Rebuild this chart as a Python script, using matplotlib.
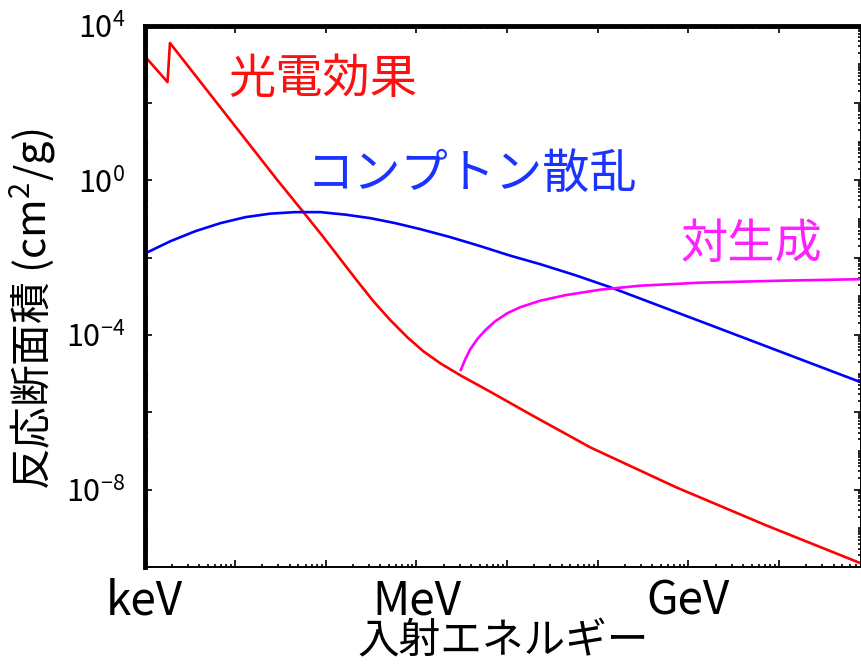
import matplotlib
matplotlib.use("Agg")
import matplotlib.pyplot as plt
from matplotlib.ticker import LogLocator, NullFormatter
import numpy as np

plt.rcParams['font.family'] = ['Noto Sans CJK JP', 'DejaVu Sans']
plt.rcParams['mathtext.fontset'] = 'custom'
plt.rcParams['mathtext.rm'] = 'Noto Sans CJK JP'
plt.rcParams['mathtext.default'] = 'regular'

# ---- data (log10 of energy in eV, log10 of cross-section in cm^2/g) ----
photo_logE = [3.011, 3.254, 3.281, 4.466, 4.753, 4.974, 5.161, 5.349, 5.525,
              5.713, 5.900, 6.076, 6.263, 6.484, 6.815, 7.256, 7.917, 8.866,
              9.858, 10.905]
photo_logS = [3.185, 2.538, 3.547, 0.003, -0.825, -1.472, -2.041, -2.610, -3.128,
              -3.620, -4.060, -4.422, -4.733, -5.043, -5.470, -6.052, -6.906, -7.940,
              -8.923, -9.906]

compton_logE = [3.0, 3.287, 3.562, 3.838, 4.114, 4.389, 4.665, 4.940, 5.216,
                5.492, 5.767, 6.043, 6.374, 6.705, 7.036, 7.366, 7.752, 8.138,
                9.130, 10.905]
compton_logS = [-1.900, -1.576, -1.317, -1.110, -0.955, -0.864, -0.825, -0.825, -0.890,
                -0.981, -1.110, -1.265, -1.472, -1.705, -1.951, -2.171, -2.455, -2.766,
                -3.645, -5.224]

pair_logE = [6.484, 6.539, 6.594, 6.671, 6.760, 6.870, 7.003, 7.146, 7.366,
             7.642, 8.028, 8.469, 9.130, 10.012, 10.905]
pair_logS = [-4.939, -4.629, -4.370, -4.111, -3.878, -3.645, -3.438, -3.283, -3.115,
             -2.973, -2.830, -2.727, -2.649, -2.598, -2.559]

series_names = ['光電効果', 'コンプトン散乱', '対生成']
series_colors = ['#ff0000', '#0000ff', '#ff00ff']
text_colors = ['#ff1010', '#1a33ff', '#ff22ff']
label_logE = [4.963, 6.616, 9.692]
label_logS = [2.59, 0.132, -1.679]

xtick_names = {3: 'keV', 6: 'MeV', 9: 'GeV'}
ytick_names = {4: '$10^{4}$', 0: '$10^{0}$', -4: '$10^{-4}$', -8: '$10^{-8}$'}

xlim_log = (3.0, 10.905)
ylim_log = (-10, 4)

# ---- figure ----
fig = plt.figure(figsize=(8.62, 6.71), dpi=100)
L, R, T, B = 144.5, 861, 25.5, 567
W, H = 862, 671
ax = fig.add_axes([L / W, 1 - B / H, (R - L) / W, (B - T) / H])

ax.set_xscale('log')
ax.set_yscale('log')

curves = [(photo_logE, photo_logS), (compton_logE, compton_logS), (pair_logE, pair_logS)]
for (lx, ly), c in zip(curves, series_colors):
    ax.plot(10.0 ** np.array(lx), 10.0 ** np.array(ly), color=c, lw=1.9,
            solid_joinstyle='round', solid_capstyle='butt')

for name, c, lx, ly in zip(series_names, text_colors, label_logE, label_logS):
    ax.text(10 ** lx, 10 ** ly, name, color=c, fontsize=34, ha='center', va='center')

ax.set_xlim(10 ** xlim_log[0], 10 ** xlim_log[1])
ax.set_ylim(10 ** ylim_log[0], 10 ** ylim_log[1])

# spines
for s in ['left', 'top']:
    ax.spines[s].set_linewidth(3.5)
for s in ['bottom', 'right']:
    ax.spines[s].set_linewidth(1.4)

# x ticks: every decade, minor 2..9
xmaj = list(range(3, 11))
ax.set_xticks([10.0 ** k for k in xmaj])
ax.set_xticklabels([xtick_names.get(k, '') for k in xmaj])
ax.xaxis.set_minor_locator(LogLocator(base=10, subs=np.arange(2, 10), numticks=30))
ax.xaxis.set_minor_formatter(NullFormatter())

# y ticks: major every two decades, minor each decade
ymaj = list(range(-10, 5, 2))
ax.set_yticks([10.0 ** k for k in ymaj])
ax.set_yticklabels([ytick_names.get(k, '') for k in ymaj])
ax.yaxis.set_minor_locator(LogLocator(base=10, subs=np.arange(1, 10), numticks=30))
ax.yaxis.set_minor_formatter(NullFormatter())

ax.tick_params(which='both', direction='in', top=True, right=True, width=1.2)
ax.tick_params(which='major', length=5)
ax.tick_params(which='minor', length=2.5)
ax.tick_params(axis='y', which='major', labelsize=22, pad=14)
ax.tick_params(axis='x', which='major', labelsize=33, pad=7)

ax.set_xlabel('入射エネルギー', fontsize=30)
ax.xaxis.set_label_coords(0.5, -0.139)
ax.xaxis.label.set_va('center')
ax.set_ylabel('反応断面積 (cm$^2$/g)', fontsize=30)
ax.yaxis.set_label_coords(-0.156, 0.475)
ax.yaxis.label.set_va('center')

fig.savefig('out.png', dpi=100)
